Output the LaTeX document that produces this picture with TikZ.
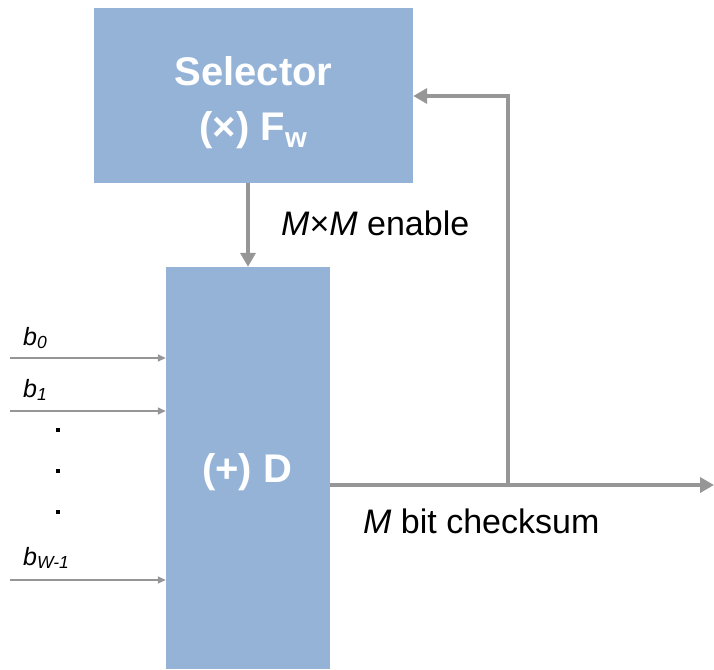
\documentclass[tikz,border=0pt]{standalone}
\usepackage{fontspec}
\setmainfont{Liberation Sans}
\usetikzlibrary{arrows.meta}
\definecolor{boxblue}{HTML}{95B3D7}
\definecolor{linegray}{HTML}{969696}
\begin{document}
\begin{tikzpicture}[x=1pt,y=-1pt,
  blk/.style={fill=boxblue, draw=none, inner sep=0pt},
  blktext/.style={text=white, align=center, inner sep=0pt,
    font=\bfseries\fontsize{40}{55}\selectfont},
  thickarr/.style={draw=linegray, line width=3.5pt, -{Triangle[length=14pt,width=15pt]}},
  thickline/.style={draw=linegray, line width=3.5pt},
  thinarr/.style={draw=linegray, line width=1.4pt, -{Triangle[length=8pt,width=7pt]}},
  lbl/.style={anchor=base west, inner sep=0pt, font=\fontsize{34}{38}\selectfont},
  blbl/.style={anchor=base west, inner sep=0pt, font=\fontsize{25}{30}\selectfont},
  dotmark/.style={fill=black, draw=none, minimum size=4pt, inner sep=0pt}]
\useasboundingbox (0,0) rectangle (714,669);
% blocks
\node[blk, minimum width=319pt, minimum height=175pt] (sel) at (253.5,95.5) {};
\node[blktext] (seltext) at (253.5,103) {Selector\\(×) F\textsubscript{w}};
\node[blk, minimum width=164pt, minimum height=402pt] (D) at (248,468) {};
\node[blktext] (Dtext) at (247,472) {(+) D};
% enable arrow
\draw[thickarr] (D.north |- sel.south) -- (D.north);
\node[lbl] (enable) at (281,235) {\textit{M}×\textit{M} enable};
% output and feedback
\coordinate (out) at (714,485);
\coordinate (branch) at (508,485);
\coordinate (corner) at (508,96);
\draw[thickarr] (D.east |- out) -- (out);
\draw[thickline, line cap=rect] (branch) -- (corner);
\draw[thickarr] (corner) -- (corner -| sel.east);
\node[lbl] (chk) at (363,533) {\textit{M} bit checksum};
% inputs
\coordinate (in0) at (10,358);
\coordinate (in1) at (10,411);
\coordinate (in2) at (10,580);
\draw[thinarr] (in0) -- (in0 -| D.west);
\draw[thinarr] (in1) -- (in1 -| D.west);
\draw[thinarr] (in2) -- (in2 -| D.west);
\node[blbl] (b0) at (23,345) {\textit{b\textsubscript{0}}};
\node[blbl] (b1) at (23,397) {\textit{b\textsubscript{1}}};
\node[blbl] (bw) at (23,565) {\textit{b\textsubscript{W-1}}};
\node[dotmark] (d1) at (58,430) {};
\node[dotmark] (d2) at (58,471) {};
\node[dotmark] (d3) at (58,512) {};
\end{tikzpicture}
\end{document}
